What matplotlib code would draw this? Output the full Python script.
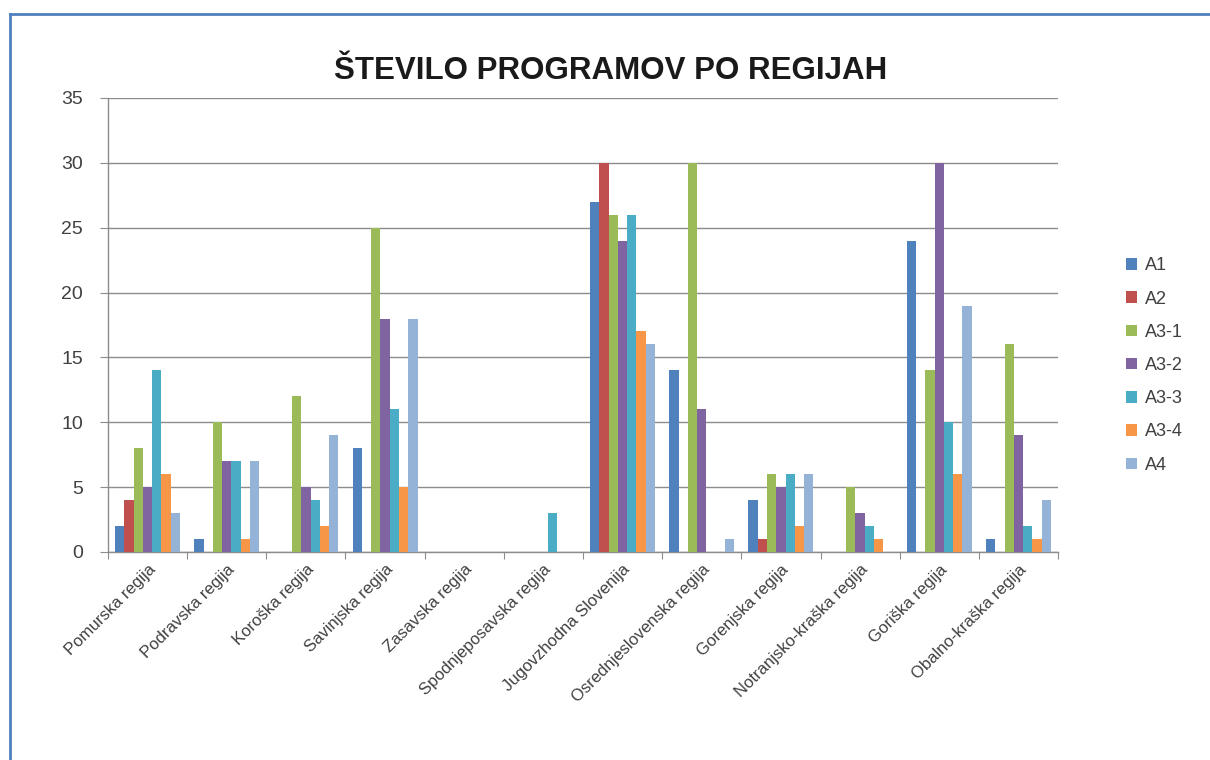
import matplotlib
matplotlib.use("Agg")
import matplotlib.pyplot as plt
import numpy as np
from matplotlib.lines import Line2D
from matplotlib.patches import Patch

regions = ["Pomurska regija", "Podravska regija", "Koroška regija", "Savinjska regija",
           "Zasavska regija", "Spodnjeposavska regija", "Jugovzhodna Slovenija",
           "Osrednjeslovenska regija", "Gorenjska regija", "Notranjsko-kraška regija",
           "Goriška regija", "Obalno-kraška regija"]
series = ["A1", "A2", "A3-1", "A3-2", "A3-3", "A3-4", "A4"]
A1   = [2, 1, 0, 8, 0, 0, 27, 14, 4, 0, 24, 1]
A2   = [4, 0, 0, 0, 0, 0, 30, 0, 1, 0, 0, 0]
A3_1 = [8, 10, 12, 25, 0, 0, 26, 30, 6, 5, 14, 16]
A3_2 = [5, 7, 5, 18, 0, 0, 24, 11, 5, 3, 30, 9]
A3_3 = [14, 7, 4, 11, 0, 3, 26, 0, 6, 2, 10, 2]
A3_4 = [6, 1, 2, 5, 0, 0, 17, 0, 2, 1, 6, 1]
A4   = [3, 7, 9, 18, 0, 0, 16, 1, 6, 0, 19, 4]
values = [A1, A2, A3_1, A3_2, A3_3, A3_4, A4]
colors = ["#4F81BD", "#C0504D", "#9BBB59", "#8064A2", "#4BACC6", "#F79646", "#95B3D7"]

plt.rcParams['font.family'] = ['Liberation Sans', 'DejaVu Sans']

fig = plt.figure(figsize=(12.1, 7.6), dpi=100)
ax = fig.add_axes([108/1210, 1-552/760, (1058-108)/1210, (552-98)/760])

n = len(series)
bw = 0.117
x = np.arange(len(regions))
for i, (s, v, c) in enumerate(zip(series, values, colors)):
    ax.bar(x + (i - (n-1)/2) * bw, v, width=bw, color=c, label=s, zorder=3)

ax.set_xlim(-0.5, len(regions) - 0.5)
ax.set_ylim(0, 35)
ax.set_yticks(range(0, 36, 5))
ax.yaxis.grid(True, color="#8C8C8C", linewidth=1.0, zorder=0)
ax.set_axisbelow(True)
for sp in ["top", "right"]:
    ax.spines[sp].set_visible(False)
for sp in ["left", "bottom"]:
    ax.spines[sp].set_color("#8C8C8C")
    ax.spines[sp].set_linewidth(1.0)

ax.tick_params(axis="y", colors="#8C8C8C", labelcolor="#404040", labelsize=14, length=6, pad=12)
ax.set_xticks(np.arange(-0.5, len(regions), 1.0), minor=False)
ax.set_xticklabels([])
ax.tick_params(axis="x", which="major", colors="#8C8C8C", length=5)
ax.set_xticks(x, minor=True)
ax.set_xticklabels(regions, minor=True, rotation=45, ha="right", va="top",
                   rotation_mode="anchor", fontsize=12, color="#404040")
ax.tick_params(axis="x", which="minor", length=0, pad=7)

fig.text(0.505, 1-71/760, "ŠTEVILO PROGRAMOV PO REGIJAH", ha="center", va="center",
         fontsize=22.5, fontweight="bold", color="#1a1a1a")

handles = [Patch(facecolor=c, edgecolor="none") for c in colors]
leg = fig.legend(handles, series, loc="upper left", bbox_to_anchor=(1110/1210, 1-241/760),
                 frameon=False, fontsize=13, handlelength=0.6, handleheight=0.6,
                 labelspacing=0.9, handletextpad=0.45, labelcolor="#404040")

# outer chart border (blue)
fig.add_artist(Line2D([10/1210, 1.0], [1-14/760, 1-14/760], color="#4F81BD", linewidth=2.0))
fig.add_artist(Line2D([10/1210, 10/1210], [0.0, 1-14/760], color="#4F81BD", linewidth=2.0))

fig.savefig("out.png", dpi=100)
